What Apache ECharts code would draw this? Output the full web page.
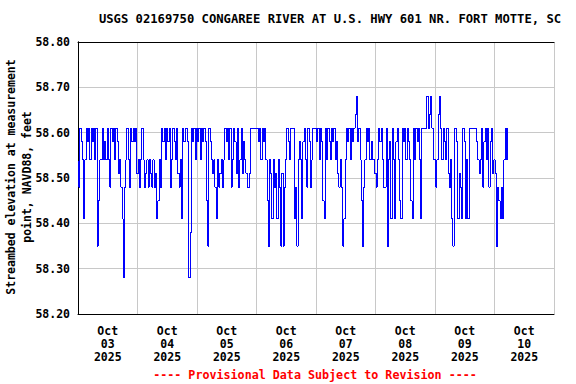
<!DOCTYPE html>
<html>
<head>
<meta charset="utf-8">
<script src="https://cdn.jsdelivr.net/npm/echarts@6/dist/echarts.min.js"></script>
<style>
html,body{margin:0;padding:0;background:#fff;}
#chart{width:576px;height:384px;}
#chart path[stroke="#0000fe"],#chart path[stroke="rgb(0,0,254)"],#chart path[stroke="rgb(0, 0, 254)"]{shape-rendering:crispEdges;}
</style>
</head>
<body>
<div id="chart"></div>
<script>
// 30-minute readings (feet), starting Oct 03 2025 00:00
const oct03 = [58.54,58.48,58.61,58.58,58.54,58.41,58.54,58.61,
  58.58,58.61,58.54,58.61,58.58,58.61,58.54,58.61,
  58.35,58.45,58.54,58.54,58.61,58.54,58.58,58.54,
  58.61,58.54,58.48,58.61,58.58,58.61,58.54,58.61,
  58.58,58.51,58.54,58.48,58.41,58.28,58.48,58.54,
  58.61,58.54,58.48,58.61,58.58,58.61,58.58,58.61];
const oct04 = [58.51,58.54,58.48,58.54,58.61,58.54,58.48,58.51,
  58.54,58.48,58.54,58.51,58.48,58.54,58.48,58.51,
  58.41,58.45,58.54,58.48,58.61,58.58,58.61,58.54,
  58.61,58.58,58.61,58.48,58.54,58.61,58.58,58.54,
  58.61,58.51,58.48,58.54,58.41,58.61,58.58,58.61,
  58.61,58.58,58.28,58.38,58.61,58.58,58.61,58.54];
const oct05 = [58.61,58.58,58.61,58.54,58.61,58.58,58.61,58.58,
  58.45,58.35,58.61,58.58,58.54,58.51,58.54,58.48,
  58.41,58.54,58.48,58.51,58.54,58.48,58.54,58.61,
  58.58,58.61,58.54,58.61,58.48,58.54,58.61,58.58,
  58.51,58.61,58.48,58.54,58.61,58.51,58.58,58.54,
  58.51,58.48,58.48,58.51,58.61,58.61,58.61,58.61];
const oct06 = [58.61,58.61,58.58,58.61,58.54,58.61,58.58,58.61,
  58.54,58.45,58.35,58.54,58.51,58.41,58.54,58.48,
  58.51,58.41,58.54,58.48,58.35,58.51,58.35,58.48,
  58.54,58.61,58.58,58.54,58.61,58.61,58.61,58.41,
  58.48,58.35,58.54,58.58,58.54,58.41,58.58,58.61,
  58.54,58.48,58.61,58.58,58.48,58.54,58.61,58.61];
const oct07 = [58.61,58.58,58.61,58.54,58.61,58.58,58.45,58.41,
  58.61,58.54,58.61,58.58,58.54,58.61,58.58,58.61,
  58.54,58.58,58.51,58.48,58.54,58.48,58.35,58.41,
  58.54,58.61,58.58,58.61,58.54,58.61,58.58,58.61,
  58.64,58.68,58.58,58.61,58.54,58.45,58.35,58.48,
  58.54,58.61,58.58,58.61,58.54,58.58,58.54,58.54];
const oct08 = [58.51,58.48,58.54,58.61,58.58,58.61,58.54,58.48,
  58.48,58.61,58.35,58.54,58.58,58.41,58.61,58.54,
  58.41,58.58,58.61,58.54,58.45,58.41,58.61,58.58,
  58.61,58.54,58.61,58.58,58.54,58.45,58.41,58.61,
  58.54,58.61,58.58,58.61,58.54,58.41,58.61,58.61,
  58.61,58.61,58.68,58.61,58.64,58.68,58.61,58.54];
const oct09 = [58.54,58.48,58.54,58.64,58.68,58.61,58.54,58.61,
  58.58,58.54,58.61,58.51,58.48,58.54,58.41,58.35,
  58.61,58.61,58.58,58.41,58.51,58.48,58.41,58.61,
  58.58,58.41,58.54,58.41,58.61,58.61,58.61,58.61,
  58.61,58.61,58.58,58.54,58.51,58.54,58.61,58.48,
  58.58,58.61,58.54,58.61,58.48,58.58,58.61,58.51];
const oct10 = [58.54,58.51,58.35,58.48,58.45,58.41,58.48,58.41,
  58.54,58.61,58.54,58.61];

// x tick labels (placed at noon of each day)
const tickMonths = ['Oct','Oct','Oct','Oct','Oct','Oct','Oct','Oct'];
const tickDays = ['03','04','05','06','07','08','09','10'];
const tickYears = ['2025','2025','2025','2025','2025','2025','2025','2025'];
const labelHours = [12,36,60,84,108,132,156,180];

const titleText = 'USGS 02169750 CONGAREE RIVER AT U.S. HWY 601 NR. FORT MOTTE, SC';
const yName = 'Streambed elevation at measurement\npoint, NAVD88, feet';
const footer = '---- Provisional Data Subject to Revision ----';

const values = [].concat(oct03, oct04, oct05, oct06, oct07, oct08, oct09, oct10);
const data = values.map((v, i) => [i * 0.5, v]);

const FONT = 'DejaVu Sans Mono';
const frameLine = {show: true, lineStyle: {color: '#000', width: 1}};
const chart = echarts.init(document.getElementById('chart'), null, {renderer: 'svg'});
chart.setOption({
  animation: false,
  backgroundColor: '#fff',
  graphic: [
    {type: 'text', x: 330, y: 19,
     style: {text: titleText, textAlign: 'center', textVerticalAlign: 'middle',
             font: 'bold 12.2px "DejaVu Sans Mono"', fill: '#000'}},
    {type: 'text', x: 315, y: 375,
     style: {text: footer, textAlign: 'center', textVerticalAlign: 'middle',
             font: 'bold 11.7px "DejaVu Sans Mono"', fill: '#ff0000'}},
    {type: 'text', x: 18.5, y: 177, rotation: Math.PI / 2,
     style: {text: yName, textAlign: 'center', textVerticalAlign: 'middle', lineHeight: 16,
             font: 'bold 11.5px "DejaVu Sans Mono"', fill: '#000'}}
  ],
  grid: {left: 78, right: 22, top: 42, bottom: 70, show: false, outerBoundsMode: 'none',
         containLabel: false},
  xAxis: [{
    type: 'value', min: 0, max: 192, interval: 24,
    axisLine: frameLine, axisTick: {show: false},
    splitLine: {show: true, lineStyle: {color: '#c8c8c8', width: 1}},
    axisLabel: {
      customValues: labelHours, margin: 10, lineHeight: 13,
      fontFamily: FONT, fontWeight: 'bold', fontSize: 11.5, color: '#000',
      formatter: function (v) {
        const i = labelHours.indexOf(Math.round(v));
        if (i < 0) return '';
        return tickMonths[i] + '\n' + tickDays[i] + '\n' + tickYears[i];
      }
    }
  }, {
    type: 'value', position: 'top', min: 0, max: 192, interval: 24,
    axisLine: frameLine, axisTick: {show: false}, axisLabel: {show: false}, splitLine: {show: false}
  }],
  yAxis: [{
    type: 'value', min: 58.2, max: 58.8, interval: 0.1,
    axisLine: frameLine, axisTick: {show: false},
    splitLine: {show: true, lineStyle: {color: '#c8c8c8', width: 1}},
    axisLabel: {margin: 8, fontFamily: FONT, fontWeight: 'bold', fontSize: 11.5, color: '#000',
      formatter: v => v.toFixed(2)}
  }, {
    type: 'value', position: 'right', min: 58.2, max: 58.8, interval: 0.1,
    axisLine: frameLine, axisTick: {show: false}, axisLabel: {show: false}, splitLine: {show: false}
  }],
  series: [{
    type: 'line', data: data, step: 'middle', showSymbol: false,
    xAxisIndex: 0, yAxisIndex: 0,
    lineStyle: {color: '#0000fe', width: 1}, itemStyle: {color: '#0000fe'}
  }]
});
</script>
</body>
</html>
